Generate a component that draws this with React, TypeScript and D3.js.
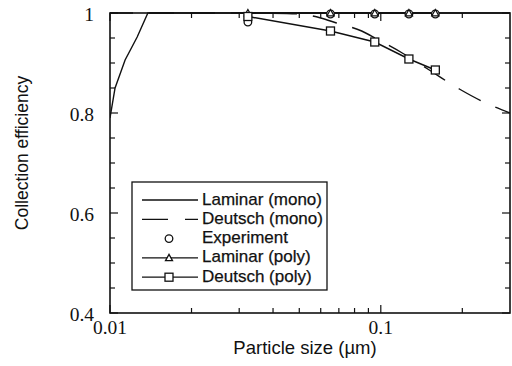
import React from "react";
import * as d3 from "d3";

// Particle size (µm) vs collection efficiency
const laminarMonoX = [0.01, 0.01044, 0.01137, 0.0126, 0.0138, 0.3];
const laminarMonoY = [0.79, 0.85, 0.906, 0.952, 1.0, 1.0];

const deutschMonoX = [0.01, 0.03, 0.045, 0.052, 0.06, 0.0686, 0.085, 0.0967, 0.12, 0.15, 0.195, 0.244, 0.3];
const deutschMonoY = [1.0, 1.0, 0.999, 0.997, 0.99, 0.98, 0.964, 0.948, 0.92, 0.887, 0.848, 0.82, 0.8];

const sizes = [0.0323, 0.0652, 0.095, 0.127, 0.159];
const experiment = [0.982, 0.998, 0.998, 0.998, 0.998];
const laminarPoly = [1.0, 1.0, 1.0, 1.0, 1.0];
const deutschPoly = [0.993, 0.964, 0.942, 0.908, 0.886];

const xMajor = [0.01, 0.1];
const xMinor = [0.02, 0.03, 0.04, 0.05, 0.06, 0.07, 0.08, 0.09, 0.2];
const yMajor = [0.4, 0.6, 0.8, 1.0];
const yMinor = [0.45, 0.5, 0.55, 0.65, 0.7, 0.75, 0.85, 0.9, 0.95];
const xTickLabels = ["0.01", "0.1"];
const yTickLabels = ["0.4", "0.6", "0.8", "1"];

const legendLabels = ["Laminar (mono)", "Deutsch (mono)", "Experiment", "Laminar (poly)", "Deutsch (poly)"];

const SANS = "'Liberation Sans', Arial, Helvetica, sans-serif";
const SERIF = "'Liberation Serif', 'Times New Roman', serif";
const INK = "#111";

export default function App() {
  const left = 110, right = 510, top = 13, bottom = 313;
  const x = d3.scaleLog().domain([0.01, 0.3]).range([left, right]);
  const y = d3.scaleLinear().domain([0.4, 1]).range([bottom, top]);

  const smooth = d3
    .line<[number, number]>()
    .x((d) => x(d[0]))
    .y((d) => y(d[1]))
    .curve(d3.curveMonotoneX);
  const straight = d3
    .line<[number, number]>()
    .x((d) => x(d[0]))
    .y((d) => y(d[1]));

  const lamMono = straight(laminarMonoX.map((v, i) => [v, laminarMonoY[i]]))!;
  const deuMono = smooth(deutschMonoX.map((v, i) => [v, deutschMonoY[i]]))!;
  const lamPoly = straight(sizes.map((v, i) => [v, laminarPoly[i]]))!;
  const deuPoly = straight(sizes.map((v, i) => [v, deutschPoly[i]]))!;

  const tri = (cx: number, cy: number, s = 3.5) =>
    `M${cx},${cy - s}L${cx + s},${cy + s * 0.8}L${cx - s},${cy + s * 0.8}Z`;

  const lgX = 132, lgY = 182, lgW = 195, lgH = 108;
  const rowY = (i: number) => 200 + i * 19.3;
  const l0 = 142, l1 = 198, lm = 169;

  return (
    <svg
      width={512}
      height={366}
      style={{ position: "absolute", left: 0, top: 0, background: "#fff" }}
    >
      <defs>
        <clipPath id="plot">
          <rect x={left} y={top - 6} width={right - left} height={bottom - top + 6} />
        </clipPath>
      </defs>

      {/* frame */}
      <rect x={left} y={top} width={right - left} height={bottom - top} fill="none" stroke={INK} strokeWidth={1.6} />

      {/* x ticks, bottom and top */}
      {xMajor.concat(xMinor).map((v, i) => {
        const len = xMajor.includes(v) ? 8 : 5;
        return (
          <g key={"xt" + i} stroke={INK} strokeWidth={1.2}>
            <line x1={x(v)} x2={x(v)} y1={bottom} y2={bottom - len} />
            <line x1={x(v)} x2={x(v)} y1={top} y2={top + len} />
          </g>
        );
      })}
      {/* y ticks, left and right */}
      {yMajor.concat(yMinor).map((v, i) => {
        const len = yMajor.includes(v) ? 8 : 5;
        return (
          <g key={"yt" + i} stroke={INK} strokeWidth={1.2}>
            <line x1={left} x2={left + len} y1={y(v)} y2={y(v)} />
            <line x1={right} x2={right - len} y1={y(v)} y2={y(v)} />
          </g>
        );
      })}

      {xMajor.map((v, i) => (
        <text key={"xl" + i} x={x(v)} y={334} textAnchor="middle" fontFamily={SERIF} fontSize={19.5} fill={INK}>
          {xTickLabels[i]}
        </text>
      ))}
      {yMajor.map((v, i) => (
        <text key={"yl" + i} x={94} y={y(v) + 8} textAnchor="end" fontFamily={SERIF} fontSize={19.5} fill={INK}>
          {yTickLabels[i]}
        </text>
      ))}

      <text x={305} y={354} textAnchor="middle" fontFamily={SANS} fontSize={18.5} fill={INK}>
        Particle size (µm)
      </text>
      <text
        transform={`translate(28,153) rotate(-90)`}
        textAnchor="middle"
        fontFamily={SANS}
        fontSize={17.5}
        fill={INK}
      >
        Collection efficiency
      </text>

      {/* curves */}
      <g clipPath="url(#plot)" fill="none" stroke={INK} strokeWidth={1.4}>
        <path d={lamMono} />
        <path d={deuMono} strokeDasharray="25,16" strokeDashoffset={2} />
        <path d={lamPoly} />
        <path d={deuPoly} />
      </g>

      {/* markers */}
      {sizes.map((v, i) => (
        <circle key={"ex" + i} cx={x(v)} cy={y(experiment[i])} r={3.8} fill="#fff" stroke={INK} strokeWidth={1.3} />
      ))}
      {sizes.map((v, i) => (
        <path key={"lp" + i} d={tri(x(v), y(laminarPoly[i]))} fill="#fff" stroke={INK} strokeWidth={1.3} />
      ))}
      {sizes.map((v, i) => (
        <rect
          key={"dp" + i}
          x={x(v) - 4}
          y={y(deutschPoly[i]) - 4}
          width={8}
          height={8}
          fill="#fff"
          stroke={INK}
          strokeWidth={1.3}
        />
      ))}

      {/* legend */}
      <rect x={lgX} y={lgY} width={lgW} height={lgH} fill="#fff" stroke={INK} strokeWidth={1.3} />
      <g stroke={INK} strokeWidth={1.3} fill="none">
        <line x1={l0} x2={l1} y1={rowY(0)} y2={rowY(0)} />
        <line x1={l0} x2={l1} y1={rowY(1)} y2={rowY(1)} strokeDasharray="26,17" />
        <circle cx={lm} cy={rowY(2)} r={3.8} fill="#fff" />
        <line x1={l0} x2={l1} y1={rowY(3)} y2={rowY(3)} />
        <path d={tri(lm, rowY(3))} fill="#fff" />
        <line x1={l0} x2={l1} y1={rowY(4)} y2={rowY(4)} />
        <rect x={lm - 4} y={rowY(4) - 4} width={8} height={8} fill="#fff" />
      </g>
      {legendLabels.map((t, i) => (
        <text
          key={"lg" + i}
          x={202}
          y={rowY(i) + 4.5}
          fontFamily={SANS}
          fontSize={17}
          fill={INK}
          stroke={INK}
          strokeWidth={0.25}
        >
          {t}
        </text>
      ))}
    </svg>
  );
}
